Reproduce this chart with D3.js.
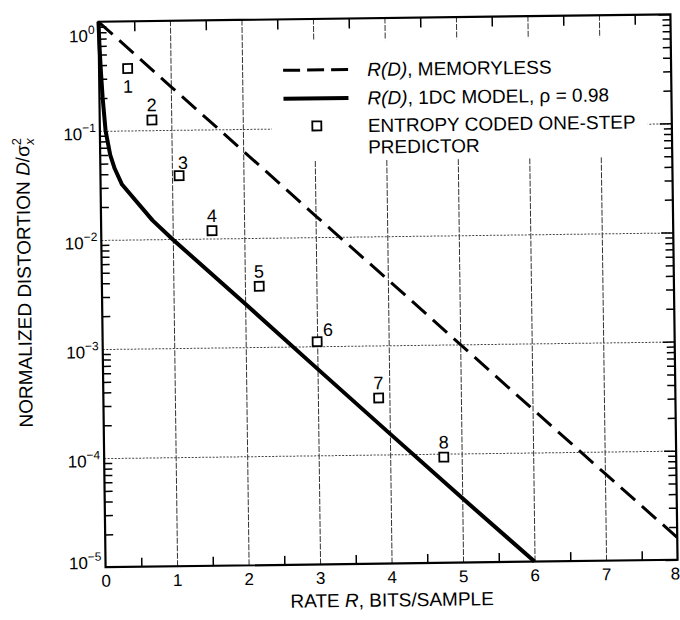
<!DOCTYPE html>
<html>
<head>
<meta charset="utf-8">
<script src="https://cdn.jsdelivr.net/npm/d3@7/dist/d3.min.js"></script>
<style>
html,body{margin:0;padding:0;background:#fff;}
svg{display:block;}
text{font-family:"Liberation Sans",Arial,Helvetica,sans-serif;fill:#000;}
</style>
</head>
<body>
<div id="chart"></div>
<script>
// ---------- data ----------
const xTickValues = [0, 1, 2, 3, 4, 5, 6, 7, 8];
const xHalfTickValues = [0.5, 1.5, 2.5, 3.5, 4.5, 5.5, 6.5, 7.5];
const yDecadeValues = [1, 1e-1, 1e-2, 1e-3, 1e-4, 1e-5];
const yDecadeExponents = ["0", "\u22121", "\u22122", "\u22123", "\u22124", "\u22125"];

// R(D), memoryless
const memorylessRate = [0, 1, 2, 3, 4, 5, 6, 7, 8];
const memorylessDist = [1, 0.25, 0.063, 0.0157, 0.0040, 0.00100, 0.00025, 0.000063, 0.000016];

// R(D), 1DC model, rho = 0.98
const dcRate = [0, 0.01, 0.025, 0.045, 0.08, 0.14, 0.2, 0.3, 0.72, 1, 2, 3, 4, 5, 6];
const dcDist = [1, 0.6, 0.35, 0.2, 0.1, 0.06, 0.045, 0.032, 0.0149, 0.0099, 0.0025, 0.00062, 0.000155, 0.000039, 0.00001];

// Entropy coded one-step predictor
const predRate = [0.40, 0.73, 1.10, 1.55, 2.20, 3.00, 3.85, 4.75];
const predDist = [0.37, 0.124, 0.038, 0.0118, 0.0036, 0.0011, 0.00033, 0.000093];
const predLabels = ["1", "2", "3", "4", "5", "6", "7", "8"];

const xTitleParts = [["RATE ", false], ["R", true], [", BITS/SAMPLE", false]];
const yTitleMain = "NORMALIZED DISTORTION ";
const legendRows = [
  [["R(D)", true], [", MEMORYLESS", false]],
  [["R(D)", true], [", 1DC MODEL, \u03C1 = 0.98", false]],
  [["ENTROPY CODED ONE-STEP", false]],
  [["PREDICTOR", false]]
];

// ---------- layout ----------
const W = 680, H = 620;
const pL = 102, pR = 674, pT = 18, pB = 563.5;

const x = d3.scaleLinear().domain([0, 8]).range([pL, pR]);
const y = d3.scaleLog().domain([1e-5, 1]).range([pB, pT]);

const svg = d3.select("#chart").append("svg").attr("width", W).attr("height", H);
const g = svg.append("g").attr("transform", "rotate(-0.75,388,291)");

// ---------- grid ----------
const vgrid = g.append("g").attr("transform", `translate(0,${pB})`)
  .call(d3.axisBottom(x).tickValues([1, 2, 3, 4, 5, 6, 7]).tickSize(-(pB - pT)).tickFormat(""));
vgrid.select(".domain").remove();
vgrid.selectAll("line").attr("stroke", "#333").attr("stroke-width", 1).attr("stroke-dasharray", "6,1.5");

const hgrid = g.append("g").attr("transform", `translate(${pL},0)`)
  .call(d3.axisLeft(y).tickValues([1e-1, 1e-2, 1e-3, 1e-4]).tickSize(-(pR - pL)).tickFormat(""));
hgrid.select(".domain").remove();
hgrid.selectAll("line").attr("stroke", "#444").attr("stroke-width", 1).attr("stroke-dasharray", "2,1.5");

// minor ticks
const minorVals = y.ticks().filter(v => !yDecadeValues.some(d => Math.abs(d - v) / d < 1e-6));
const lMinor = g.append("g").attr("transform", `translate(${pL},0)`)
  .call(d3.axisLeft(y).tickValues(minorVals).tickSize(-8).tickFormat(""));
const rMinor = g.append("g").attr("transform", `translate(${pR},0)`)
  .call(d3.axisRight(y).tickValues(minorVals).tickSize(-8).tickFormat(""));
const rMajor = g.append("g").attr("transform", `translate(${pR},0)`)
  .call(d3.axisRight(y).tickValues(yDecadeValues).tickSize(-12).tickFormat(""));
const bHalf = g.append("g").attr("transform", `translate(0,${pB})`)
  .call(d3.axisBottom(x).tickValues(xHalfTickValues).tickSize(-9).tickFormat(""));
const tHalf = g.append("g").attr("transform", `translate(0,${pT})`)
  .call(d3.axisTop(x).tickValues(xHalfTickValues).tickSize(-10).tickFormat(""));
[lMinor, rMinor, rMajor, bHalf, tHalf].forEach(s => {
  s.select(".domain").remove();
  s.selectAll("line").attr("stroke", "#000").attr("stroke-width", 1.5);
});

// ---------- legend box (covers grid) ----------
g.append("rect").attr("x", 274).attr("y", 40).attr("width", 376).attr("height", 120).attr("fill", "#fff");

// ---------- frame ----------
g.append("rect").attr("x", pL).attr("y", pT).attr("width", pR - pL).attr("height", pB - pT)
  .attr("fill", "none").attr("stroke", "#000").attr("stroke-width", 2.2);

// ---------- axis labels ----------
const xLab = g.append("g").attr("transform", `translate(0,${pB})`)
  .call(d3.axisBottom(x).tickValues(xTickValues).tickSize(0).tickPadding(7.5).tickFormat(d3.format("d")));
xLab.select(".domain").remove();
xLab.selectAll("text").attr("font-size", 17).attr("font-family", "'Liberation Sans',Arial,sans-serif").attr("fill", "#000");
// keep the last label inside the page
xLab.selectAll(".tick").filter(d => d === 8).select("text").attr("text-anchor", "end").attr("dx", 2);

const yOff = d => d === 1 ? 20 : (d === 1e-5 ? 1.5 : 9);
yDecadeValues.forEach((d, i) => {
  const t = g.append("text").attr("x", pL - 4).attr("y", y(d) + yOff(d)).attr("text-anchor", "end").attr("font-size", 17);
  t.append("tspan").text("10");
  t.append("tspan").attr("dy", -8).attr("font-size", 12).text(yDecadeExponents[i]);
});

// x title
const xt = g.append("text").attr("x", 388).attr("y", 606.5).attr("text-anchor", "middle").attr("font-size", 19);
xTitleParts.forEach(([s, it]) => xt.append("tspan").attr("font-style", it ? "italic" : "normal").text(s));

// y title
const yt = g.append("text").attr("transform", "translate(31,278) rotate(-90)").attr("text-anchor", "middle").attr("font-size", 19);
yt.append("tspan").text(yTitleMain);
yt.append("tspan").attr("font-style", "italic").text("D");
yt.append("tspan").text("/\u03C3");
yt.append("tspan").attr("dy", -8).attr("font-size", 13).text("2");
yt.append("tspan").attr("dx", -7).attr("dy", 13).attr("font-size", 13).attr("font-style", "italic").text("x");

// ---------- series ----------
const memData = memorylessRate.map((r, i) => [r, memorylessDist[i]]);
const dcData = dcRate.map((r, i) => [r, dcDist[i]]);
const line = d3.line().x(d => x(d[0])).y(d => y(d[1]));

g.append("path").datum(memData).attr("d", line).attr("fill", "none").attr("stroke", "#000")
  .attr("stroke-width", 3).attr("stroke-dasharray", "19,9");
g.append("path").datum(dcData).attr("d", line).attr("fill", "none").attr("stroke", "#000")
  .attr("stroke-width", 4).attr("stroke-linejoin", "round");

const sq = 9;
const predData = predRate.map((r, i) => ({ r, d: predDist[i], label: predLabels[i] }));
g.selectAll("rect.pt").data(predData).join("rect").attr("class", "pt")
  .attr("x", d => x(d.r) - sq / 2).attr("y", d => y(d.d) - sq / 2)
  .attr("width", sq).attr("height", sq).attr("fill", "#fff").attr("stroke", "#000").attr("stroke-width", 1.8);

const labelShift = { "1": [0, 18], "3": [4, -13], "6": [11, -12] };
g.selectAll("text.pl").data(predData).join("text").attr("class", "pl")
  .attr("x", d => x(d.r) + (labelShift[d.label] || [0, -15])[0])
  .attr("y", d => y(d.d) + (labelShift[d.label] || [0, -15])[1] + 6.3)
  .attr("text-anchor", "middle").attr("font-size", 18).text(d => d.label);

// ---------- legend ----------
g.append("line").attr("x1", 286).attr("x2", 351).attr("y1", 69).attr("y2", 69)
  .attr("stroke", "#000").attr("stroke-width", 3).attr("stroke-dasharray", "17,7");
g.append("line").attr("x1", 286).attr("x2", 351).attr("y1", 97.5).attr("y2", 97.5)
  .attr("stroke", "#000").attr("stroke-width", 4);
g.append("rect").attr("x", 319 - sq / 2).attr("y", 125 - sq / 2).attr("width", sq).attr("height", sq)
  .attr("fill", "#fff").attr("stroke", "#000").attr("stroke-width", 1.8);
const rowY = [69, 97.5, 125, 146.5];
legendRows.forEach((parts, i) => {
  const t = g.append("text").attr("x", 370).attr("y", rowY[i] + 6.8).attr("font-size", 19);
  parts.forEach(([s, it]) => t.append("tspan").attr("font-style", it ? "italic" : "normal").text(s));
});
</script>
</body>
</html>
